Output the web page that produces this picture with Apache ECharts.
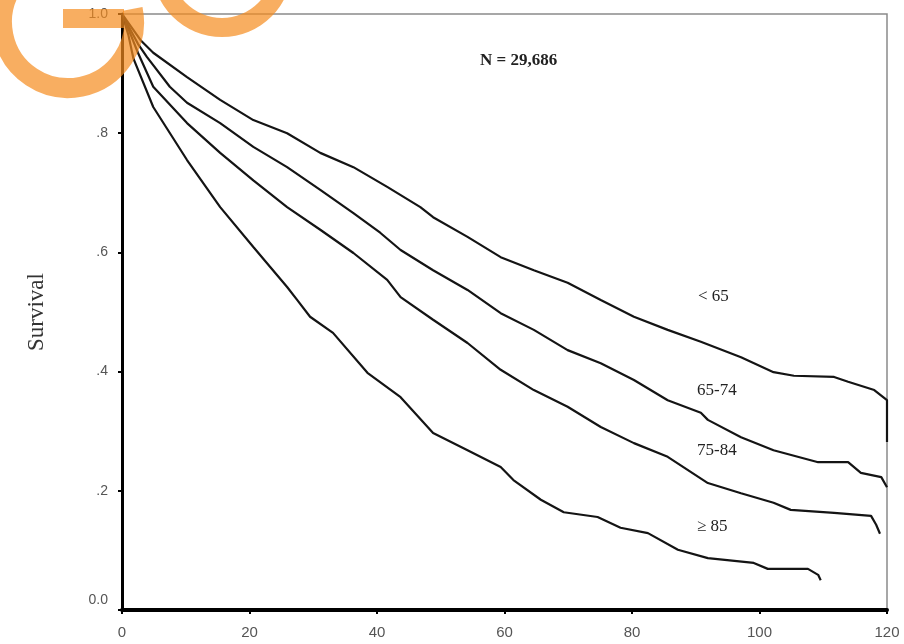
<!DOCTYPE html>
<html>
<head>
<meta charset="utf-8">
<script src="https://cdn.jsdelivr.net/npm/echarts@6/dist/echarts.min.js"></script>
<style>
html,body{margin:0;padding:0;background:#fff;}
#c{width:904px;height:644px;}
</style>
</head>
<body>
<div id="c"></div>
<script>
// ---- data ----
var xTicks = [0, 20, 40, 60, 80, 100, 120];
var yTickLabels = ['0.0', '.2', '.4', '.6', '.8', '1.0'];
var groupLabels = ['< 65', '65-74', '75-84', '\u2265 85'];
var sampleText = 'N = 29,686';
var yTitle = 'Survival';

var lt65Months = [0, 1, 3, 4.9, 10.2, 15.4, 20.6, 25.9, 31.1, 36.3, 41.6, 46.8, 48.8, 54.2, 59.4, 64.6, 69.9, 75.1, 80.3, 85.6, 90.8, 97.1, 102.2, 105.4, 111.7, 113.9, 118.0, 120, 120];
var lt65Surv   = [1.0, 0.985, 0.955, 0.935, 0.894, 0.856, 0.822, 0.800, 0.767, 0.743, 0.710, 0.676, 0.659, 0.626, 0.592, 0.570, 0.549, 0.520, 0.492, 0.470, 0.450, 0.424, 0.399, 0.393, 0.391, 0.383, 0.369, 0.352, 0.282];

var m6574Months = [0, 1, 2.5, 3.9, 7.5, 10.2, 15.4, 20.6, 25.9, 31.1, 36.3, 40.5, 43.7, 48.8, 54.2, 59.4, 64.6, 69.9, 75.1, 80.3, 85.6, 90.8, 91.9, 97.1, 102.2, 109.2, 113.9, 115.9, 119.1, 120];
var m6574Surv   = [1.0, 0.98, 0.95, 0.928, 0.878, 0.851, 0.817, 0.777, 0.743, 0.705, 0.666, 0.633, 0.604, 0.570, 0.537, 0.498, 0.470, 0.436, 0.414, 0.386, 0.352, 0.331, 0.319, 0.290, 0.268, 0.248, 0.248, 0.230, 0.223, 0.206];

var m7584Months = [0, 1, 2.5, 4.9, 10.2, 15.4, 20.6, 25.9, 31.1, 36.3, 41.6, 43.7, 48.8, 54.2, 59.4, 64.6, 69.9, 75.1, 80.3, 85.6, 91.9, 97.1, 102.2, 104.9, 111.7, 117.5, 118.3, 118.9];
var m7584Surv   = [1.0, 0.975, 0.935, 0.878, 0.817, 0.767, 0.721, 0.676, 0.638, 0.599, 0.554, 0.525, 0.487, 0.448, 0.403, 0.369, 0.341, 0.307, 0.280, 0.257, 0.213, 0.196, 0.180, 0.168, 0.163, 0.158, 0.143, 0.128];

var ge85Months = [0, 1, 1.8, 4.9, 10.2, 15.4, 20.6, 25.9, 27.5, 29.5, 33.1, 38.5, 43.7, 48.8, 54.2, 59.4, 61.4, 65.7, 69.3, 74.6, 78.2, 82.5, 87.2, 91.9, 99.1, 101.3, 107.6, 109.2, 109.6];
var ge85Surv   = [1.0, 0.965, 0.925, 0.844, 0.755, 0.676, 0.609, 0.542, 0.520, 0.492, 0.465, 0.398, 0.357, 0.297, 0.268, 0.240, 0.218, 0.185, 0.164, 0.156, 0.138, 0.129, 0.101, 0.087, 0.079, 0.069, 0.069, 0.059, 0.050];

function pairs(xs, ys) { return xs.map(function (x, i) { return [x, ys[i]]; }); }

var chart = echarts.init(document.getElementById('c'));
var lineStyle = { color: '#141414', width: 2.2 };
function curve(name, xs, ys) {
  return { name: name, type: 'line', data: pairs(xs, ys), symbol: 'none', smooth: false,
           lineStyle: lineStyle, silent: true, z: 3 };
}
var orange = 'rgba(245,140,30,0.7)';
var labelFont = '"Liberation Serif", "Times New Roman", serif';

chart.setOption({
  animation: false,
  backgroundColor: '#fff',
  grid: { left: 122, right: 17, top: 14, bottom: 34, show: true, borderColor: '#8a8a8a', borderWidth: 1.5, backgroundColor: 'transparent' },
  xAxis: {
    type: 'value', min: 0, max: 120, interval: 20,
    axisLine: { show: true, lineStyle: { color: '#000', width: 4 } },
    axisTick: { show: true, length: 4, lineStyle: { color: '#000', width: 2 } },
    splitLine: { show: false },
    axisLabel: { margin: 15, color: '#555', fontSize: 15, fontFamily: '"Liberation Sans", Arial, sans-serif',
      formatter: function (v) { return xTicks.indexOf(v) >= 0 ? String(v) : ''; } }
  },
  yAxis: {
    type: 'value', min: 0, max: 1, interval: 0.2,
    name: yTitle, nameLocation: 'middle', nameGap: 74,
    nameTextStyle: { fontFamily: labelFont, fontSize: 23, color: '#333' },
    axisLine: { show: true, lineStyle: { color: '#000', width: 3 } },
    axisTick: { show: true, length: 4, lineStyle: { color: '#000', width: 2 } },
    splitLine: { show: false },
    axisLabel: { margin: 14, color: '#555', fontSize: 14, fontFamily: '"Liberation Sans", Arial, sans-serif',
      formatter: function (v) {
        var i = Math.round(v * 5);
        return i === 0 ? '{low|' + yTickLabels[0] + '}' : yTickLabels[i];
      },
      rich: { low: { color: '#555', fontSize: 14, fontFamily: '"Liberation Sans", Arial, sans-serif', padding: [0, 0, 20, 0] } } }
  },
  series: [
    curve(groupLabels[0], lt65Months, lt65Surv),
    curve(groupLabels[1], m6574Months, m6574Surv),
    curve(groupLabels[2], m7584Months, m7584Surv),
    curve(groupLabels[3], ge85Months, ge85Surv)
  ],
  graphic: [
    { type: 'text', left: 480, top: 52, style: { text: sampleText, font: 'bold 17px ' + labelFont, fill: '#222' } },
    { type: 'text', left: 698, top: 288, style: { text: groupLabels[0], font: '17px ' + labelFont, fill: '#222' } },
    { type: 'text', left: 697, top: 382, style: { text: groupLabels[1], font: '17px ' + labelFont, fill: '#222' } },
    { type: 'text', left: 697, top: 442, style: { text: groupLabels[2], font: '17px ' + labelFont, fill: '#222' } },
    { type: 'text', left: 697, top: 518, style: { text: groupLabels[3], font: '17px ' + labelFont, fill: '#222' } },
    // orange watermark "GO"
    { type: 'arc', z: 100, silent: true,
      shape: { cx: 68, cy: 22, r: 66, startAngle: -0.2, endAngle: 2 * Math.PI - 0.8, clockwise: true },
      style: { stroke: orange, lineWidth: 20, fill: null, lineCap: 'butt' } },
    { type: 'rect', z: 100, silent: true,
      shape: { x: 63, y: 9, width: 61, height: 19 },
      style: { fill: orange } },
    { type: 'ring', z: 100, silent: true,
      shape: { cx: 222, cy: -33, r: 70, r0: 51 },
      style: { fill: orange } }
  ]
});
</script>
</body>
</html>
